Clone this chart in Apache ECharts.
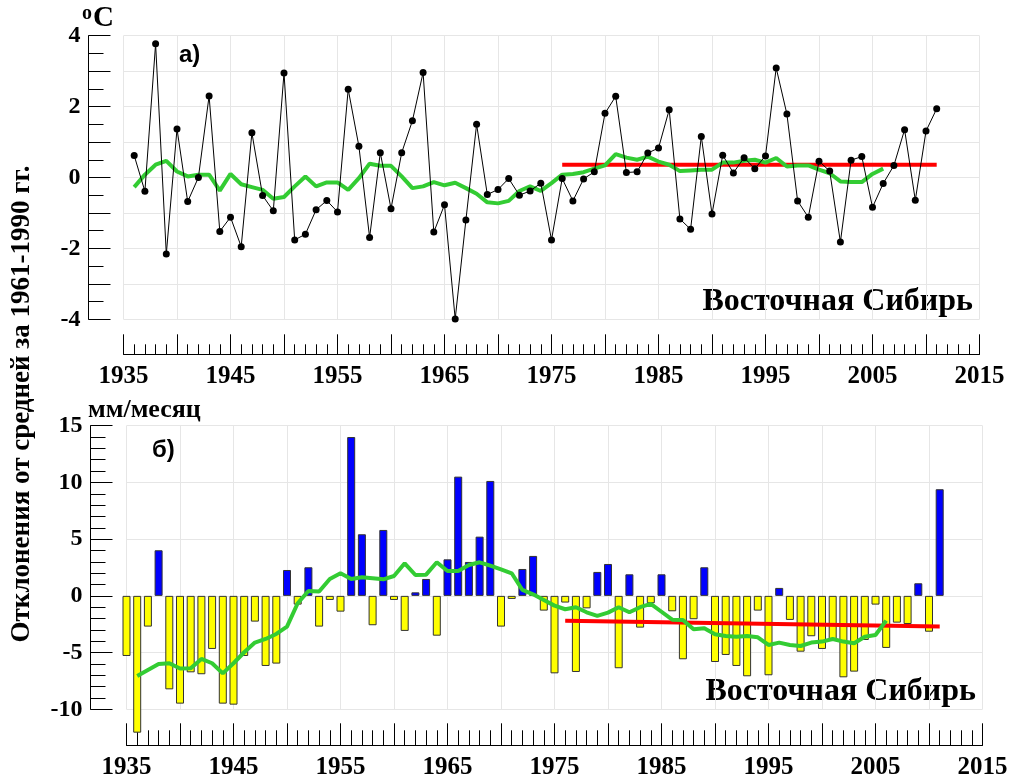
<!DOCTYPE html>
<html>
<head>
<meta charset="utf-8">
<script src="https://cdn.jsdelivr.net/npm/echarts@6/dist/echarts.min.js"></script>
<style>
  html, body { margin: 0; padding: 0; background: #ffffff; }
  #chart { width: 1012px; height: 783px; }
</style>
</head>
<body>
<div id="chart"></div>
<script>
// Eastern Siberia: (a) annual temperature anomaly, (b) precipitation anomaly
// relative to the 1961-1990 mean.

const yearTicks = [1935, 1945, 1955, 1965, 1975, 1985, 1995, 2005, 2015];

// (a) temperature anomalies, °C, 1936-2011
const tempFirstYear = 1936;
const tempValues = [
  0.62, -0.39, 3.77, -2.16, 1.37, -0.68, 0.00, 2.30, -1.52, -1.12,
  -1.95, 1.26, -0.51, -0.94, 2.95, -1.76, -1.60, -0.91, -0.65, -0.97,
  2.49, 0.88, -1.69, 0.70, -0.88, 0.70, 1.60, 2.96, -1.54, -0.77,
  -3.99, -1.20, 1.50, -0.48, -0.34, -0.03, -0.50, -0.38, -0.16, -1.76,
  -0.03, -0.66, -0.04, 0.16, 1.81, 2.29, 0.14, 0.16, 0.69, 0.83,
  1.91, -1.17, -1.46, 1.16, -1.03, 0.63, 0.13, 0.56, 0.25, 0.61,
  3.09, 1.79, -0.66, -1.12, 0.46, 0.18, -1.82, 0.49, 0.59, -0.84,
  -0.17, 0.34, 1.35, -0.64, 1.31, 1.94
];
// smoothed temperature, 1936-2006
const tempSmoothFirstYear = 1936;
const tempSmooth = [
  -0.27, 0.08, 0.36, 0.47, 0.17, 0.03, 0.08, 0.08, -0.37, 0.10,
  -0.19, -0.27, -0.35, -0.60, -0.55, -0.25, 0.03, -0.25, -0.14, -0.14,
  -0.35, -0.02, 0.39, 0.33, 0.33, 0.03, -0.30, -0.25, -0.13, -0.22,
  -0.15, -0.30, -0.46, -0.70, -0.73, -0.66, -0.38, -0.25, -0.38, -0.16,
  0.08, 0.10, 0.15, 0.25, 0.34, 0.66, 0.56, 0.50, 0.59, 0.45,
  0.36, 0.18, 0.20, 0.22, 0.22, 0.42, 0.42, 0.47, 0.50, 0.42,
  0.55, 0.31, 0.34, 0.34, 0.22, 0.12, -0.11, -0.13, -0.13, 0.10,
  0.25
];
// linear trend 1976-2011
const tempTrendYears = [1976, 2011];
const tempTrendValues = [0.36, 0.36];

// (b) precipitation anomalies, mm/month, 1935-2011
const precFirstYear = 1935;
const precValues = [
  -5.30, -12.06, -2.71, 4.02, -8.24, -9.50, -6.74, -6.91, -4.68, -9.50,
  -9.59, -5.30, -2.27, -6.18, -5.97, 2.28, -0.77, 2.52, -2.71, -0.36,
  -1.39, 14.00, 5.43, -2.59, 5.81, -0.36, -3.09, 0.31, 1.49, -3.51,
  3.22, 10.51, 2.99, 5.22, 10.13, -2.71, -0.27, 2.37, 3.52, -1.30,
  -6.83, -0.59, -6.71, -1.10, 2.11, 2.81, -6.38, 1.90, -2.80, -0.65,
  1.90, -1.36, -5.59, -2.06, 2.52, -5.83, -5.21, -6.18, -7.09, -1.30,
  -7.00, 0.70, -2.12, -4.92, -3.56, -4.68, -3.83, -7.18, -6.68, -3.89,
  -0.77, -4.59, -2.36, -2.48, 1.11, -3.16, 9.40
];
// smoothed precipitation, 1936-2006
const precSmoothFirstYear = 1936;
const precSmooth = [
  -7.06, -6.53, -6.00, -5.94, -6.41, -6.38, -5.56, -5.94, -6.83, -5.94,
  -4.97, -4.12, -3.80, -3.36, -2.71, -0.65, 0.43, 0.38, 1.49, 1.99,
  1.49, 1.64, 1.55, 1.46, 1.75, 2.87, 1.84, 1.87, 2.96, 2.19,
  2.19, 2.72, 2.96, 2.66, 2.34, 1.99, 0.52, 0.14, -0.36, -0.86,
  -1.18, -1.00, -1.45, -1.77, -1.48, -1.00, -1.45, -1.00, -0.71, -1.40,
  -2.10, -2.12, -2.95, -2.86, -3.39, -3.54, -3.60, -3.54, -3.65, -4.33,
  -4.12, -4.33, -4.42, -4.12, -4.03, -3.80, -4.03, -4.18, -3.60, -3.45,
  -2.18
];
// linear trend 1976-2011
const precTrendYears = [1976, 2011];
const precTrendValues = [-2.2, -2.7];

const regionName = 'Восточная Сибирь';
const axisTitle = 'Отклонения от средней за 1961-1990 гг.';

// ---------------------------------------------------------------
const pairs = (first, vals) => vals.map((v, i) => [first + i, v]);
const zip = (xs, ys) => xs.map((x, i) => [x, ys[i]]);

const SERIF = '"Liberation Serif", "Times New Roman", serif';
const SANS = '"Liberation Sans", Arial, sans-serif';
const GRID_COLOR = '#e6e6e6';
const GREEN = '#33cc33';
const RED = '#ff0000';

function yearAxis(gridIndex, offset, majorLen, minorLen) {
  return {
    type: 'value', gridIndex, min: 1935, max: 2015, interval: 5,
    offset,
    axisLine: { show: true, onZero: false, lineStyle: { color: '#000', width: 1 } },
    axisTick: { show: true, inside: true, length: majorLen, lineStyle: { color: '#000', width: 1 } },
    minorTick: { show: true, splitNumber: 5, length: minorLen, lineStyle: { color: '#000', width: 1 } },
    splitLine: { show: true, lineStyle: { color: GRID_COLOR, width: 1 } },
    axisLabel: {
      margin: 10,
      fontFamily: SERIF, fontWeight: 'bold', fontSize: 25, color: '#000',
      formatter: v => (yearTicks.indexOf(v) >= 0 ? String(v) : '')
    }
  };
}

function valueAxis(gridIndex, min, max, interval, minorSplit, offset, showLabel) {
  return {
    type: 'value', gridIndex, min, max, interval, offset,
    axisLine: { show: true, onZero: false, lineStyle: { color: '#000', width: 1 } },
    axisTick: { show: true, inside: true, length: 22, lineStyle: { color: '#000', width: 1 } },
    minorTick: { show: true, splitNumber: minorSplit, length: 15, lineStyle: { color: '#000', width: 1 } },
    splitLine: { show: true, lineStyle: { color: GRID_COLOR, width: 1 } },
    axisLabel: {
      margin: 8,
      fontFamily: SERIF, fontWeight: 'bold', fontSize: 24, color: '#000',
      formatter: v => (showLabel(v) ? String(v) : '')
    }
  };
}

const chart = echarts.init(document.getElementById('chart'), null, { renderer: 'canvas' });

chart.setOption({
  animation: false,
  backgroundColor: '#ffffff',
  grid: [
    { left: 123.5, top: 35.7, width: 856, height: 283.6 },
    { left: 126.5, top: 425.7, width: 856, height: 283.6 }
  ],
  xAxis: [
    yearAxis(0, 35, 20, 10),
    yearAxis(1, 36, 22, 15)
  ],
  yAxis: [
    valueAxis(0, -4, 4, 1, 2, 35, v => v % 2 === 0),
    valueAxis(1, -10, 15, 5, 5, 36, () => true)
  ],
  series: [
    // (a)
    {
      type: 'line', xAxisIndex: 0, yAxisIndex: 0, z: 3,
      data: zip(tempTrendYears, tempTrendValues),
      symbol: 'none', lineStyle: { color: RED, width: 4 }
    },
    {
      type: 'line', xAxisIndex: 0, yAxisIndex: 0, z: 4,
      data: pairs(tempSmoothFirstYear, tempSmooth),
      symbol: 'none', lineStyle: { color: GREEN, width: 4 }
    },
    {
      type: 'line', xAxisIndex: 0, yAxisIndex: 0, z: 5,
      data: pairs(tempFirstYear, tempValues),
      symbol: 'circle', symbolSize: 7,
      itemStyle: { color: '#000' },
      lineStyle: { color: '#000', width: 1 }
    },
    // (b)
    {
      type: 'bar', xAxisIndex: 1, yAxisIndex: 1, z: 2,
      barWidth: 8, clip: false,
      data: pairs(precFirstYear, precValues).map(d => ({
        value: d,
        itemStyle: { color: d[1] >= 0 ? '#0000ff' : '#ffff00' }
      })),
      itemStyle: { borderColor: '#333', borderWidth: 1 }
    },
    {
      type: 'line', xAxisIndex: 1, yAxisIndex: 1, z: 3,
      data: zip(precTrendYears, precTrendValues),
      symbol: 'none', lineStyle: { color: RED, width: 4 }
    },
    {
      type: 'line', xAxisIndex: 1, yAxisIndex: 1, z: 4,
      data: pairs(precSmoothFirstYear, precSmooth),
      symbol: 'none', lineStyle: { color: GREEN, width: 4 }
    }
  ],
  graphic: [
    // unit of panel (a)
    { type: 'text', x: 82, y: 4, style: { text: 'о', font: 'bold 20px ' + SERIF, fill: '#000' } },
    { type: 'text', x: 93, y: 4, style: { text: 'С', font: 'bold 29px ' + SERIF, fill: '#000' } },
    // unit of panel (b)
    { type: 'text', x: 88, y: 397, style: { text: 'мм/месяц', font: 'bold 26px ' + SERIF, fill: '#000' } },
    // panel letters
    { type: 'text', x: 179, y: 43, style: { text: 'а)', font: 'bold 24px ' + SANS, fill: '#000' } },
    { type: 'text', x: 152, y: 438, style: { text: 'б)', font: 'bold 24px ' + SANS, fill: '#000' } },
    // region captions
    { type: 'text', x: 973, y: 301.5, style: { text: regionName, font: 'bold 32px ' + SERIF, fill: '#000',
      textAlign: 'right', align: 'right', textVerticalAlign: 'middle', verticalAlign: 'middle' } },
    { type: 'text', x: 976, y: 691.5, style: { text: regionName, font: 'bold 32px ' + SERIF, fill: '#000',
      textAlign: 'right', align: 'right', textVerticalAlign: 'middle', verticalAlign: 'middle' } },
    // shared vertical axis title
    { type: 'text', x: 22, y: 404, rotation: Math.PI / 2,
      style: { text: axisTitle, font: 'bold 27px ' + SERIF, fill: '#000',
        textAlign: 'center', align: 'center', textVerticalAlign: 'middle', verticalAlign: 'middle' } }
  ]
});
</script>
</body>
</html>
